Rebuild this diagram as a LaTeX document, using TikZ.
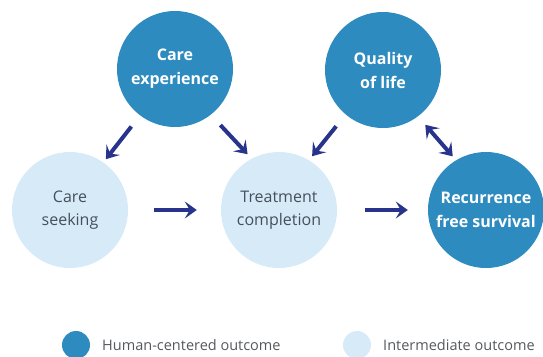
\documentclass[tikz,border=0pt]{standalone}
\usepackage{fontspec}
\setmainfont{Open Sans}
\usetikzlibrary{arrows.meta, positioning}
\definecolor{human}{RGB}{46,139,192}
\definecolor{interm}{RGB}{214,234,247}
\definecolor{navy}{RGB}{40,52,140}
\definecolor{textgray}{RGB}{70,80,92}
\definecolor{legendgray}{RGB}{85,88,92}
\tikzset{
  outcome/.style={circle, fill=human, minimum size=116pt, inner sep=0pt,
                  align=center, text=white,
                  font=\fontsize{16}{24}\selectfont\bfseries},
  intermediate/.style={circle, fill=interm, minimum size=116pt, inner sep=0pt,
                       align=center, text=textgray,
                       font=\fontsize{16}{23}\selectfont},
  arrow/.style={->, >={Stealth[length=12pt, width=17pt, inset=5pt]},
                line width=4pt, color=navy},
  legenddot/.style={circle, minimum size=28pt, inner sep=0pt},
}

\begin{document}
\begin{tikzpicture}[x=1pt, y=-1pt]
    \useasboundingbox (0,0) rectangle (543,356);

    % outcomes
    \node[outcome] (ce) at (175,69) {Care\\experience};
    \node[outcome] (ql) at (383,70) {Quality\\of life};
    \node[outcome] (rfs) at (486,210) {Recurrence\\free survival};
    \node[intermediate] (cs) at (70,210) {Care\\seeking};
    \node[intermediate] (tc) at (279,210) {Treatment\\completion};

    % pathways
    \draw[arrow, shorten <=14pt, shorten >=4pt] (ce.233) -- (cs.55);
    \draw[arrow, shorten <=14pt, shorten >=6pt] (ce.308) -- (tc.118);
    \draw[arrow, shorten <=15pt, shorten >=5pt] (ql.230) -- (tc.59);
    \draw[arrow, <->, shorten <=11pt, shorten >=5pt] (ql.307) -- (rfs.121);
    \draw[arrow, shorten <=26pt, shorten >=24pt] (cs) -- (tc);
    \draw[arrow, shorten <=28pt, shorten >=20pt] (tc) -- (rfs);

    % legend
    \foreach \x/\col/\name/\lbl in {
      76/human/hc/Human-centered outcome,
      357/interm/im/Intermediate outcome}{
      \node[legenddot, fill=\col] (\name dot) at (\x,345) {};
      \node[right=8.5pt of \name dot, font=\fontsize{14.5}{17}\selectfont,
            text=legendgray] (\name txt) {\lbl};
    }
\end{tikzpicture}
\end{document}
